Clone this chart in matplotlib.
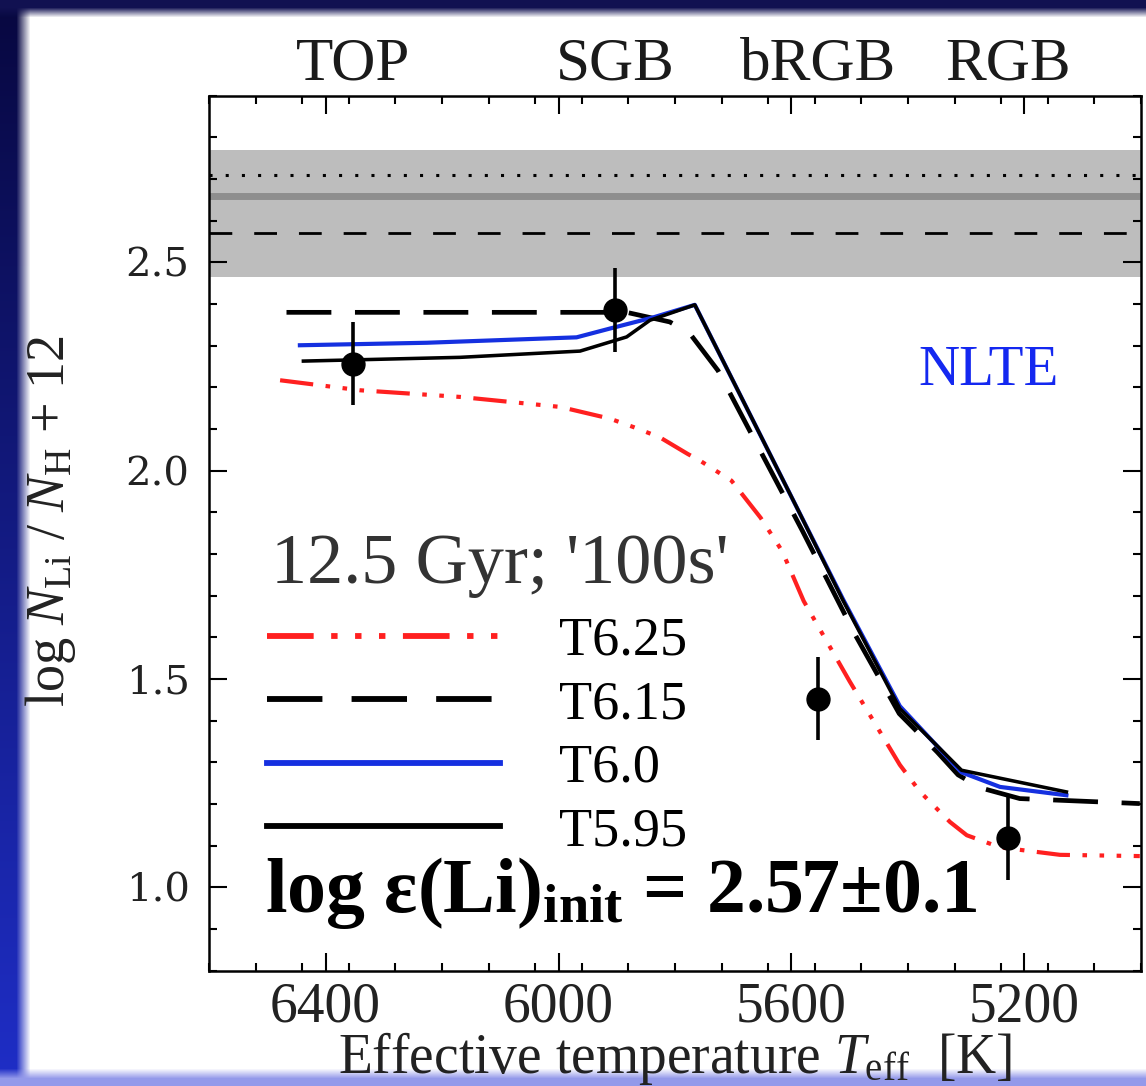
import numpy as np
import matplotlib
matplotlib.use("Agg")
import matplotlib.pyplot as plt
from matplotlib.transforms import blended_transform_factory

plt.rcParams['font.family'] = ['Liberation Serif', 'DejaVu Serif']
plt.rcParams['mathtext.fontset'] = 'custom'
plt.rcParams['mathtext.rm'] = 'Liberation Serif'
plt.rcParams['mathtext.it'] = 'Liberation Serif:italic'
plt.rcParams['mathtext.bf'] = 'Liberation Serif:bold'

# ---------------- data ----------------
# observed points (Teff, log eps(Li), error)
obs_teff = [6352, 5903, 5554, 5228]
obs_li = [2.257, 2.386, 1.453, 1.118]
obs_err = [0.10, 0.10, 0.10, 0.10]
stage_labels = ['TOP', 'SGB', 'bRGB', 'RGB']

# model tracks
t625_teff = [6478, 6341, 6169, 5997, 5912, 5870, 5826, 5778, 5757, 5703, 5653, 5616, 5579, 5500, 5414, 5379, 5328, 5299, 5242, 5139, 5002]
t625_li = [2.217, 2.193, 2.177, 2.153, 2.125, 2.104, 2.080, 2.040, 2.024, 1.976, 1.887, 1.807, 1.687, 1.494, 1.294, 1.229, 1.157, 1.125, 1.096, 1.078, 1.075]

t615_teff = [6467, 5883, 5809, 5775, 5726, 5581, 5491, 5415, 5350, 5314, 5276, 5208, 5002]
t615_li = [2.380, 2.380, 2.357, 2.330, 2.240, 1.855, 1.607, 1.417, 1.325, 1.270, 1.239, 1.213, 1.201]

t600_teff = [6444, 6226, 5969, 5912, 5837, 5766, 5591, 5511, 5414, 5308, 5242, 5128]
t600_li = [2.301, 2.307, 2.320, 2.341, 2.368, 2.398, 1.912, 1.690, 1.435, 1.276, 1.241, 1.221]

t595_teff = [6438, 6169, 5963, 5883, 5843, 5766, 5591, 5511, 5414, 5308, 5128]
t595_li = [2.263, 2.272, 2.287, 2.321, 2.361, 2.398, 1.912, 1.687, 1.429, 1.281, 1.229]

# primordial Li reference band / lines
band_low, band_high = 2.465, 2.77
ref_dotted = 2.71
ref_solid = 2.66
ref_dashed = 2.57

x_ticks = [6400, 6000, 5600, 5200]
y_ticks = [1.0, 1.5, 2.0, 2.5]

# ---------------- figure ----------------
W, H = 1146, 1086
fig = plt.figure(figsize=(W / 100, H / 100), dpi=100)

# slide-like background frame
bg = fig.add_axes([0, 0, 1, 1], zorder=-10)
img = np.ones((H, W, 3))
yy = np.linspace(0, 1, H)[:, None, None]
xx = np.arange(W)[None, :]
ys = np.arange(H)[:, None]
left_col = np.array([0.03, 0.03, 0.25]) * (1 - yy) + np.array([0.12, 0.18, 0.78]) * yy
wl = np.clip((30 - xx) / 14.0, 0, 1)[..., None] * np.ones((H, 1, 1))
img = img * (1 - wl) + left_col * wl
wt = np.clip((17 - ys) / 10.0, 0, 1)[..., None] * np.ones((1, W, 1))
img = img * (1 - wt) + np.array([0.07, 0.07, 0.32]) * wt
wb = np.clip((ys - 1068) / 10.0, 0, 1)[..., None] * np.ones((1, W, 1))
img = img * (1 - wb) + np.array([0.58, 0.60, 0.92]) * wb
bg.imshow(np.clip(img, 0, 1), extent=[0, 1, 0, 1], aspect='auto')
bg.axis('off')

ax = fig.add_axes([0.1824, 0.1062, 0.8132, 0.8057])
ax.set_xlim(6600, 5000)
ax.set_ylim(0.8, 2.9)

# reference band
ax.axhspan(band_low, band_high, color='#bdbdbd', lw=0, zorder=1)
ax.axhline(ref_solid, color='#8e8e8e', lw=5, zorder=2)
ax.axhline(ref_dotted, color='black', lw=2.2, dashes=(1, 4.3), zorder=2)
ax.axhline(ref_dashed, color='black', lw=2.0, dashes=(8.2, 7.9), zorder=2)

lw = 3.0
l1, = ax.plot(t625_teff, t625_li, color='#ff2020', lw=lw, dashes=(8, 3, 1.1, 3, 1.1, 3, 1.1, 3), label='T6.25', zorder=3)
l2, = ax.plot(t615_teff, t615_li, color='black', lw=3.4, dashes=(9.5, 5), label='T6.15', zorder=3)
l3, = ax.plot(t600_teff, t600_li, color='#1530e0', lw=lw, label='T6.0', zorder=3)
l4, = ax.plot(t595_teff, t595_li, color='black', lw=lw * 0.85, label='T5.95', zorder=4)

ax.errorbar(obs_teff, obs_li, yerr=obs_err, fmt='o', color='black', ms=16.5, elinewidth=2.6, capsize=0, zorder=5)

# axes styling
for s in ax.spines.values():
    s.set_linewidth(1.8)
ax.set_xticks(x_ticks)
ax.set_xticks(np.arange(5000, 6601, 80), minor=True)
ax.set_yticks(y_ticks)
ax.set_yticks(np.arange(0.8, 2.91, 0.1), minor=True)
ax.tick_params(which='both', direction='in', top=True, right=True, width=1.5)
ax.tick_params(which='major', length=13)
ax.tick_params(which='minor', length=6)
ax.tick_params(axis='x', pad=8)
ax.tick_params(axis='y', pad=14)
ax.set_xticklabels([str(v) for v in x_ticks], fontsize=40, color='#222222')
ax.set_yticklabels(['%.1f' % v for v in y_ticks], fontsize=29, family='DejaVu Serif', color='#222222')

ax.set_xlabel(r'Effective temperature $T_{\rm eff}$  [K]', fontsize=40, color='#222222', labelpad=-3)
ax.set_ylabel(r'log $N_{\rm Li}$ / $N_{\rm H}$ + 12', fontsize=39, color='#222222')
ax.yaxis.set_label_coords(-0.141, 0.513)

# stage labels on top
tr = blended_transform_factory(ax.transData, ax.transAxes)
for t, lab in zip(obs_teff, stage_labels):
    ax.text(t, 1.018, lab, transform=tr, ha='center', va='baseline', fontsize=44, color='#1a1a1a')

ax.text(0.761, 0.669, 'NLTE', transform=ax.transAxes, fontsize=41, color='#1428f0', va='baseline', ha='left')

ax.text(0.060, 0.067, r'log ε(Li)$_{\mathbf{init}}$ = 2.57±0.1', transform=ax.transAxes,
        fontsize=56, fontweight='bold', color='black', va='baseline', ha='left')

# legend title as text, legend entries below
ax.text(0.0665, 0.443, "12.5 Gyr; '100s'", transform=ax.transAxes, fontsize=52,
        color='#333333', va='baseline', ha='left')
leg = ax.legend(handles=[l1, l2, l3, l4], loc='upper left', bbox_to_anchor=(0.062, 0.405),
                frameon=False, fontsize=39, handlelength=4.3, handletextpad=1.1,
                labelspacing=0.24, borderpad=0, borderaxespad=0)
for h in leg.legend_handles:
    h.set_linewidth(4.2)

fig.savefig('out.png', dpi=100)
